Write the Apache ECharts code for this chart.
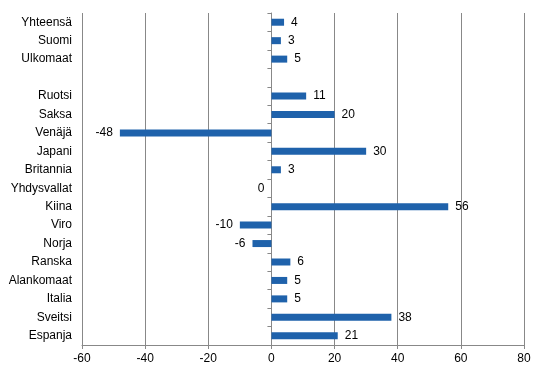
<!DOCTYPE html>
<html>
<head>
<meta charset="utf-8">
<script src="https://cdn.jsdelivr.net/npm/echarts@6/dist/echarts.min.js"></script>
<style>html,body{margin:0;padding:0;background:#fff;}#c{width:544px;height:374px;}</style>
</head>
<body>
<div id="c"></div>
<script>
var categories = ['Yhteensä','Suomi','Ulkomaat','','Ruotsi','Saksa','Venäjä','Japani','Britannia','Yhdysvallat','Kiina','Viro','Norja','Ranska','Alankomaat','Italia','Sveitsi','Espanja'];
var values = [4,3,5,null,11,20,-48,30,3,0,56,-10,-6,6,5,5,38,21];
var xTicks = [-60,-40,-20,0,20,40,60,80];

var chart = echarts.init(document.getElementById('c'));
var font = 'Liberation Sans, Arial, sans-serif';
chart.setOption({
  animation: false,
  grid: {left: 82, right: 20, top: 13, bottom: 29, containLabel: false},
  xAxis: {
    type: 'value', min: xTicks[0], max: xTicks[xTicks.length-1], interval: 20,
    axisLine: {show: true, onZero: false, lineStyle: {color: '#888', width: 1}},
    axisTick: {show: true, length: 4, lineStyle: {color: '#888'}},
    axisLabel: {color: '#000', fontSize: 12, fontFamily: font, margin: 8},
    splitLine: {show: true, lineStyle: {color: '#888', width: 1}}
  },
  yAxis: [{
    type: 'category', data: categories, inverse: true, position: 'left',
    axisLine: {show: false, onZero: false},
    axisTick: {show: false},
    axisLabel: {color: '#000', fontSize: 12, fontFamily: font, margin: 10}
  }, {
    type: 'category', data: categories, inverse: true, position: 'left',
    axisLine: {show: true, onZero: true, lineStyle: {color: '#888', width: 1}},
    axisTick: {show: true, length: 4, lineStyle: {color: '#888'}},
    axisLabel: {show: false}
  }],
  series: [{
    type: 'bar', yAxisIndex: 0, barWidth: 7,
    itemStyle: {color: '#1f62ab'},
    label: {show: true, fontSize: 12, fontFamily: font, color: '#000', distance: 7},
    data: values.map(function (v) {
      return {value: v, label: {position: (v === null || v <= 0) ? 'left' : 'right'}};
    })
  }]
});
</script>
</body>
</html>
